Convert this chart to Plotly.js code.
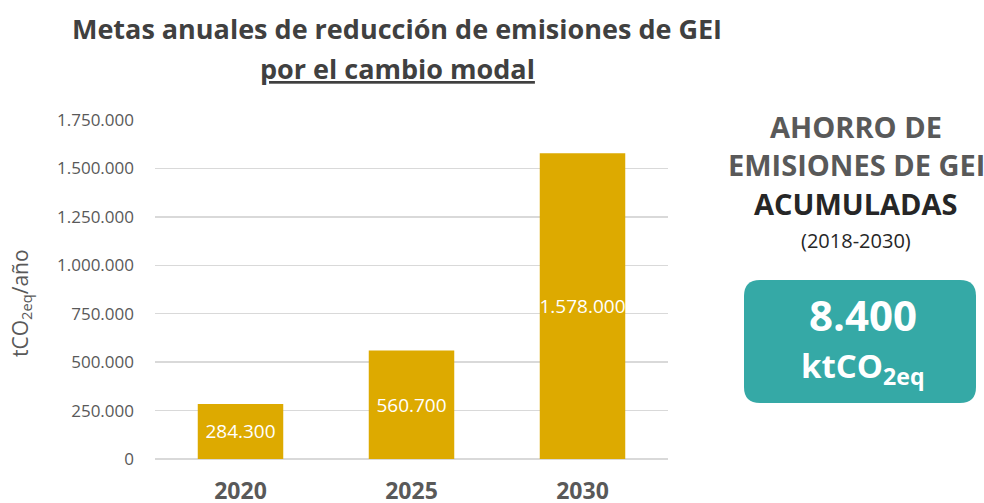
<!DOCTYPE html>
<html>
<head>
<meta charset="utf-8">
<script src="https://cdn.plot.ly/plotly-3.0.1.min.js"></script>
<style>
html,body{margin:0;padding:0;background:#fff;}
#chart{width:984px;height:503px;}
</style>
</head>
<body>
<div id="chart"></div>
<script>
var years = ['2020', '2025', '2030'];
var reductions = [284300, 560700, 1578000];
var yTicks = [0, 250000, 500000, 750000, 1000000, 1250000, 1500000, 1750000];
var totalSaving = '8.400';

var F = 'Open Sans, Noto Sans, sans-serif';
var GREY = '#595959';
var DARK = '#262626';
var TEAL = '#35A9A6';

// plot area in pixels: x 155..668, y 120..459
function px(x){ return (x - 155) / 513; }
function py(y){ return (459 - y) / 339; }

function roundRect(x0, y0, x1, y1, r){
  var X0 = px(x0), X1 = px(x1), Y0 = py(y0), Y1 = py(y1);
  var rx = r / 513, ry = r / 339;
  return 'M ' + (X0 + rx) + ' ' + Y0 +
    ' L ' + (X1 - rx) + ' ' + Y0 +
    ' Q ' + X1 + ' ' + Y0 + ' ' + X1 + ' ' + (Y0 - ry) +
    ' L ' + X1 + ' ' + (Y1 + ry) +
    ' Q ' + X1 + ' ' + Y1 + ' ' + (X1 - rx) + ' ' + Y1 +
    ' L ' + (X0 + rx) + ' ' + Y1 +
    ' Q ' + X0 + ' ' + Y1 + ' ' + X0 + ' ' + (Y1 + ry) +
    ' L ' + X0 + ' ' + (Y0 - ry) +
    ' Q ' + X0 + ' ' + Y0 + ' ' + (X0 + rx) + ' ' + Y0 + ' Z';
}

var trace = {
  type: 'bar',
  x: years,
  y: reductions,
  marker: {color: '#DDAA00'},
  texttemplate: '%{y:,d}',
  textposition: 'inside',
  insidetextanchor: 'middle',
  textangle: 0,
  constraintext: 'none',
  textfont: {family: F, size: 19, color: '#ffffff'},
  hoverinfo: 'x+y'
};

var layout = {
  width: 984,
  height: 503,
  paper_bgcolor: '#ffffff',
  plot_bgcolor: '#ffffff',
  separators: ',.',
  showlegend: false,
  bargap: 0.5,
  margin: {l: 155, r: 316, t: 120, b: 44},
  title: {
    text: '<b>Metas anuales de reducción de emisiones de GEI</b>',
    font: {family: F, size: 27, color: '#404040'},
    x: 397 / 984, xanchor: 'center', xref: 'container',
    y: 1 - 30 / 503, yanchor: 'middle', yref: 'container'
  },
  xaxis: {
    type: 'category',
    showgrid: false,
    showline: false,
    ticks: '',
    tickfont: {family: F, size: 23, color: GREY, weight: 'bold'},
    ticklabelstandoff: 16
  },
  yaxis: {
    range: [0, 1750000],
    tickvals: yTicks,
    tickformat: ',d',
    showgrid: true,
    gridcolor: '#d9d9d9',
    gridwidth: 1.5,
    zeroline: true,
    zerolinecolor: '#d9d9d9',
    zerolinewidth: 1.5,
    showline: false,
    ticks: '',
    ticklabelstandoff: 20,
    tickfont: {family: F, size: 17, color: GREY}
  },
  shapes: [
    {type: 'path', xref: 'paper', yref: 'paper', path: roundRect(744, 280, 976, 403, 16),
     fillcolor: TEAL, line: {width: 0}, layer: 'above'}
  ],
  annotations: [
    {text: 'tCO<sub>2eq</sub>/año', xref: 'paper', yref: 'paper', x: px(21), y: py(303),
     xanchor: 'center', yanchor: 'middle', textangle: -90, showarrow: false,
     font: {family: F, size: 21, color: GREY}},
    {text: '<b><u>por el cambio modal</u></b>', xref: 'paper', yref: 'paper',
     x: px(397), y: py(68), xanchor: 'center', yanchor: 'middle', showarrow: false,
     font: {family: F, size: 27, color: '#404040'}},
    {text: '<b>AHORRO DE</b>', xref: 'paper', yref: 'paper', x: px(856), y: py(127),
     xanchor: 'center', yanchor: 'middle', showarrow: false,
     font: {family: F, size: 29, color: GREY}},
    {text: '<b>EMISIONES DE GEI</b>', xref: 'paper', yref: 'paper', x: px(856), y: py(164),
     xanchor: 'center', yanchor: 'middle', showarrow: false,
     font: {family: F, size: 29, color: GREY}},
    {text: '<b>ACUMULADAS</b>', xref: 'paper', yref: 'paper', x: px(856), y: py(203),
     xanchor: 'center', yanchor: 'middle', showarrow: false,
     font: {family: F, size: 29, color: DARK}},
    {text: '(2018-2030)', xref: 'paper', yref: 'paper', x: px(856), y: py(240),
     xanchor: 'center', yanchor: 'middle', showarrow: false,
     font: {family: F, size: 20, color: DARK}},
    {text: '<b>' + totalSaving + '</b>', xref: 'paper', yref: 'paper', x: px(863), y: py(314),
     xanchor: 'center', yanchor: 'middle', showarrow: false,
     font: {family: F, size: 42, color: '#ffffff'}},
    {text: '<b>ktCO<sub>2eq</sub></b>', xref: 'paper', yref: 'paper', x: px(863), y: py(367),
     xanchor: 'center', yanchor: 'middle', showarrow: false,
     font: {family: F, size: 33, color: '#ffffff'}}
  ]
};

Plotly.newPlot('chart', [trace], layout, {displayModeBar: false, staticPlot: true});
</script>
</body>
</html>
